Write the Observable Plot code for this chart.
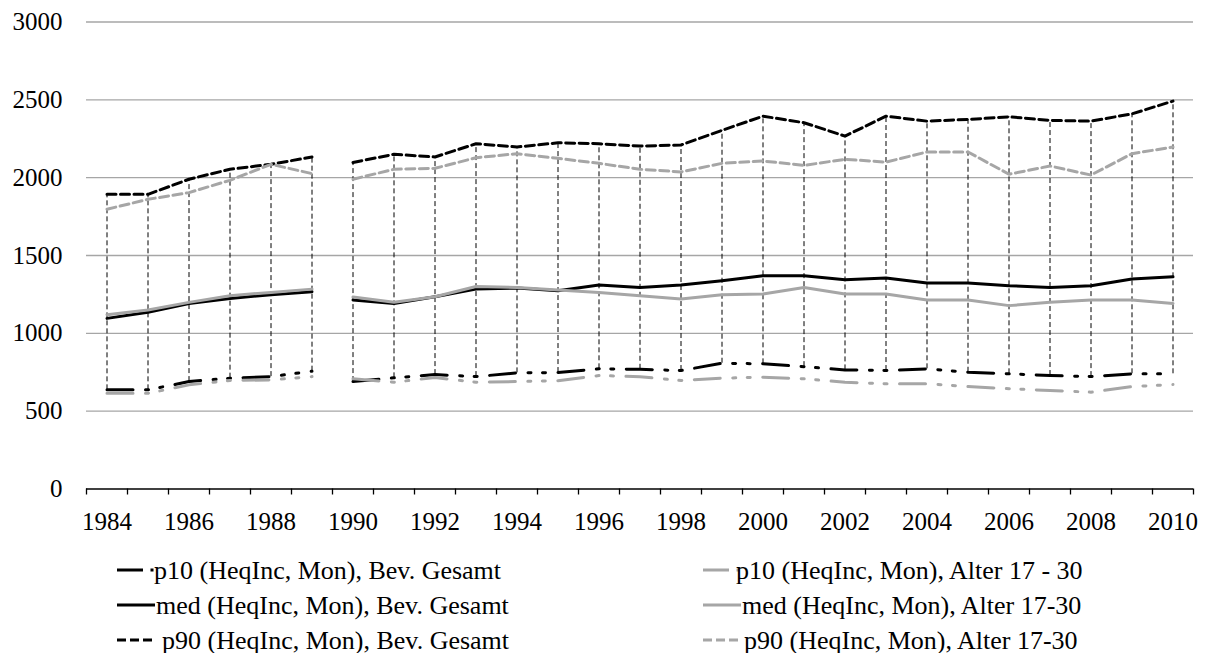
<!DOCTYPE html>
<html><head><meta charset="utf-8">
<script src="https://cdn.jsdelivr.net/npm/d3@7"></script>
<script src="https://cdn.jsdelivr.net/npm/@observablehq/plot@0.6"></script>
<style>
html,body{margin:0;padding:0;background:#fff;}
#wrap{position:relative;width:1206px;height:653px;overflow:hidden;font-family:"Liberation Serif","Times New Roman",serif;}
#chart{position:absolute;left:0;top:0;}
#legend{position:absolute;left:0;top:540px;}
</style></head>
<body><div id="wrap"><div id="chart"></div><svg id="legend" width="1206" height="113"></svg></div>
<script>
const years = [1984,1985,1986,1987,1988,1989,1990,1991,1992,1993,1994,1995,1996,1997,1998,1999,2000,2001,2002,2003,2004,2005,2006,2007,2008,2009,2010];
const p10Gesamt = [637,637,690,712,722,757,690,714,735,722,746,748,772,769,761,808,804,786,765,761,772,750,740,729,722,740,740];
const medGesamt = [1096,1135,1192,1224,1248,1267,1214,1192,1235,1284,1291,1274,1310,1295,1310,1338,1370,1370,1344,1355,1323,1323,1306,1295,1306,1349,1363];
const p90Gesamt = [1893,1893,1990,2054,2086,2133,2098,2150,2133,2218,2197,2224,2218,2203,2210,2304,2395,2353,2267,2395,2363,2374,2391,2368,2363,2410,2492];
const p10Alter = [615,615,669,697,701,722,708,686,716,686,690,696,729,721,697,712,718,708,686,676,676,658,644,633,622,658,671];
const medAlter = [1120,1150,1199,1242,1263,1284,1233,1199,1235,1301,1295,1278,1263,1242,1220,1248,1252,1295,1252,1252,1214,1214,1178,1199,1214,1214,1192];
const p90Alter = [1797,1861,1904,1983,2086,2026,1990,2054,2060,2128,2154,2124,2092,2054,2037,2092,2107,2079,2118,2100,2165,2165,2022,2075,2017,2154,2197];
const yTicks = [0,500,1000,1500,2000,2500,3000];
const xLabels = [1984,1986,1988,1990,1992,1994,1996,1998,2000,2002,2004,2006,2008,2010];
const seriesLabels = [
  "p10 (HeqInc, Mon), Bev. Gesamt",
  "med (HeqInc, Mon), Bev. Gesamt",
  "p90 (HeqInc, Mon), Bev. Gesamt",
  "p10 (HeqInc, Mon), Alter 17 - 30",
  "med (HeqInc, Mon), Alter 17-30",
  "p90 (HeqInc, Mon), Alter 17-30"
];

const FONT = "'Liberation Serif', 'Times New Roman', serif";
const BLACK = "#000000", GREY = "#a6a6a6";
const DASH_P10 = "26,12.5,3,11.5,3,12.5";
const DASH_P90 = "9,4.5";

function longRows(values) {
  return years.map((yr, i) => ({year: yr, value: values[i], period: yr < 1990 ? "a" : "b"}));
}
const series = [
  {values: p10Gesamt, color: BLACK, dash: DASH_P10},
  {values: medGesamt, color: BLACK, dash: null},
  {values: p90Gesamt, color: BLACK, dash: DASH_P90},
  {values: p10Alter, color: GREY, dash: DASH_P10},
  {values: medAlter, color: GREY, dash: null},
  {values: p90Alter, color: GREY, dash: DASH_P90}
];
const hiLo = years.map((yr, i) => ({year: yr, lo: p10Gesamt[i], hi: p90Gesamt[i]}));
const boundaries = years.map(y => y - 0.5).concat([years[years.length - 1] + 0.5]);

const lineMarks = series.map(s => Plot.line(longRows(s.values), {
  x: "year", y: "value", z: "period",
  stroke: s.color, strokeWidth: 3, strokeLinejoin: "round",
  ...(s.dash ? {strokeDasharray: s.dash} : {})
}));

const chart = Plot.plot({
  width: 1206, height: 540,
  marginLeft: 86, marginRight: 13, marginTop: 21.5, marginBottom: 51.5,
  x: {domain: [years[0] - 0.5, years[years.length - 1] + 0.5], label: null},
  y: {domain: [0, 3000], label: null},
  style: {fontFamily: FONT, fontSize: "25px", color: "#000", background: "#fff", overflow: "visible"},
  marks: [
    Plot.gridY({ticks: yTicks.filter(v => v > 0), stroke: "#a6a6a6", strokeOpacity: 1, strokeWidth: 1.3}),
    Plot.axisY({ticks: yTicks, tickSize: 0, tickPadding: 24, tickFormat: d => String(d), label: null, fontSize: 25}),
    Plot.ruleY([0], {stroke: "#000", strokeWidth: 1.3}),
    Plot.axisX({ticks: boundaries, tickSize: 6, tickFormat: () => "", label: null, stroke: "#000", strokeWidth: 1.3}),
    Plot.axisX({ticks: xLabels, tickSize: 0, tickPadding: 23, tickFormat: d => String(d), label: null, fontSize: 25}),
    Plot.ruleX(hiLo, {x: "year", y1: "lo", y2: "hi", stroke: "#000", strokeWidth: 1, strokeDasharray: "5,3"}),
    ...lineMarks
  ]
});
document.getElementById("chart").appendChild(chart);

// Legend
const lg = d3.select("#legend");
const rowY = [30, 65, 100];
const colX = [117, 703];
const sampleLen = [37, 38, 36];
const textOff = [37, 39, 45];
const legendDash = ["26,7.5,3,40", null, "9,4"];
series.forEach((s, i) => {
  const col = i < 3 ? 0 : 1, row = i % 3;
  const x0 = colX[col], y = rowY[row];
  const ln = lg.append("line").attr("x1", x0).attr("x2", x0 + sampleLen[row])
    .attr("y1", y).attr("y2", y).attr("stroke", s.color).attr("stroke-width", 3);
  if (legendDash[row]) ln.attr("stroke-dasharray", legendDash[row]);
  lg.append("text").attr("x", x0 + textOff[row] + (col === 1 && row !== 1 ? -4 : 0)).attr("y", y)
    .attr("dominant-baseline", "central")
    .attr("font-family", FONT)
    .attr("font-size", 26).attr("fill", "#000").text(seriesLabels[i]);
});
</script></body></html>
